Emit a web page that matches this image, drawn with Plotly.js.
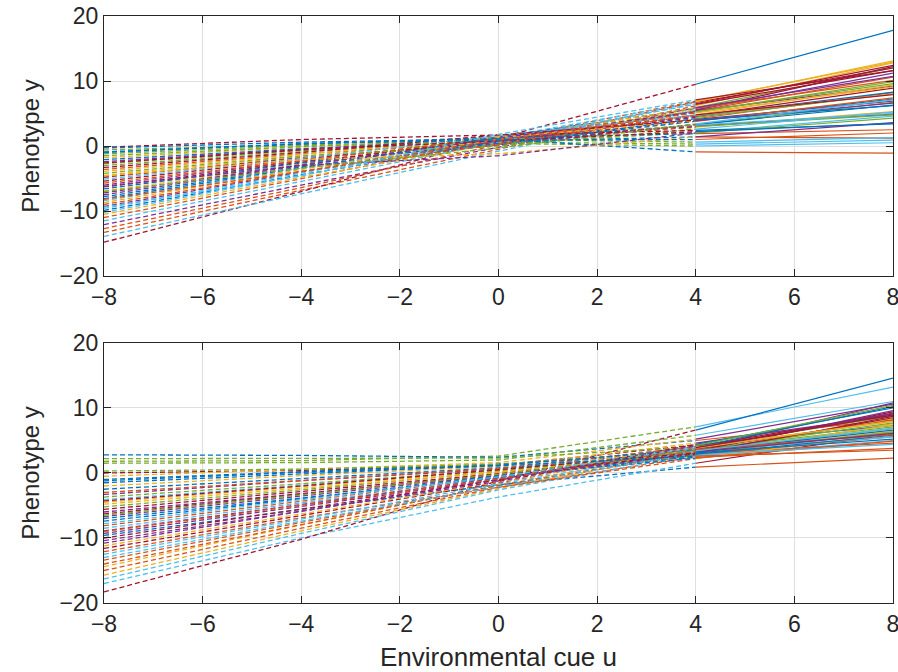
<!DOCTYPE html>
<html>
<head>
<meta charset="utf-8">
<script src="https://cdn.plot.ly/plotly-3.0.1.min.js"></script>
<style>html,body{margin:0;padding:0;background:#fff;}#chart{width:898px;height:672px;}</style>
</head>
<body>
<div id="chart"></div>
<script>
// Environmental cue positions
const uDashed = [-8, -4, 0, 4];
const uSolid = [4, 8];

// Top panel: phenotype at u = -8, -4, 0, 4, 8 for each of 50 lines
const topYm8 = [-9.9,-13.3,-4.5,-12.1,-1.2,-8.4,-14.8,-2.1,-11.0,-6.9,-9.3,-0.6,-13.9,-5.4,-7.8,-3.6,-10.5,-6.0,-2.7,-9.6,-4.8,-8.1,-12.7,-1.8,-7.2,-3.0,-11.5,-6.3,-0.9,-5.7,-8.7,-2.4,-4.2,-10.2,-0.2,-6.6,-9.0,-3.9,-7.5,-1.5,-5.1,-3.3,-0.3,-8.2,-4.6,-6.2,-7.0,-9.4,-2.6,-1.0];
const topYm4 = [-4.4,-6.8,-1.6,-6.0,0.1,-3.5,-7.0,-0.4,-5.0,-2.8,-4.0,0.2,-7.3,-2.0,-3.2,-1.2,-4.8,-2.3,-0.7,-4.1,-1.8,-3.3,-6.4,-0.2,-2.9,-0.9,-5.4,-2.5,0.3,-2.2,-3.6,-0.5,-1.5,-4.5,1.0,-2.6,-3.9,-1.3,-3.0,-0.1,-1.9,-1.0,0.6,-3.9,-2.1,-3.0,-3.4,-4.6,-0.6,0.4];
const topY0 = [0.5,-0.5,1.1,-0.2,0.4,0.6,1.2,0.7,0.9,1.5,0.8,0.6,-0.8,0.8,0.2,0.6,0.4,0.1,0.3,1.3,0.5,1.4,0.2,1.5,0.7,0.9,0.6,1.0,1.3,1.3,1.1,1.2,0.0,1.0,1.7,0.4,0.3,1.4,1.2,1.0,1.6,1.7,1.1,0.9,-1.2,-1.5,-0.3,1.8,0.8,0.9];
const topY4 = [5.4,6.2,4.1,5.9,0.0,4.6,9.5,1.4,6.9,5.4,5.2,0.3,5.5,3.9,4.2,2.9,5.6,3.3,2.1,6.7,3.3,5.8,6.8,3.1,4.4,3.2,6.5,4.6,1.9,4.7,5.9,3.0,2.6,6.4,2.4,3.8,4.8,3.9,5.3,0.6,4.8,4.0,-0.9,5.1,1.4,2.0,3.4,7.1,2.2,1.0];
const topY8 = [10.6,12.8,6.9,12.0,0.5,8.9,17.8,1.2,12.9,9.2,9.9,0.9,12.2,7.2,8.2,5.3,11.2,6.7,4.6,12.0,6.3,10.1,13.1,4.9,8.0,5.0,12.4,8.3,2.5,8.0,10.7,4.8,5.2,11.6,3.4,7.4,9.4,6.6,9.6,1.3,7.9,6.2,-1.1,9.1,3.6,4.3,7.1,11.6,3.5,2.0];

// Bottom panel: phenotype at u = -8, -4, 0, 4, 8 for each of 50 lines
const botYm8 = [-9.6,-12.1,-14.4,-10.8,1.8,-17.0,-18.3,2.8,-8.1,-15.7,-3.3,1.5,-16.3,0.0,-7.0,-13.4,-2.0,-6.0,-5.2,-4.1,-11.6,-1.0,-15.0,-0.5,-6.7,2.2,-8.5,-10.0,-2.5,-14.0,-4.5,-9.3,0.3,-12.5,-5.6,-7.4,-3.0,-11.2,-8.9,-3.7,-13.0,-6.3,-1.5,-9.0,-4.8,-10.4,-6.5,-7.8,-4.3,-1.2];
const botYm4 = [-5.6,-6.9,-8.0,-5.9,1.9,-10.0,-10.2,2.7,-4.3,-8.9,-1.2,1.6,-9.3,0.4,-3.8,-7.6,-0.4,-3.2,-2.6,-1.9,-6.6,0.2,-8.5,0.5,-3.5,2.2,-4.6,-5.5,-0.8,-7.9,-2.1,-5.1,0.6,-7.1,-2.8,-3.9,-1.1,-6.3,-4.8,-1.6,-7.4,-3.3,-0.1,-4.9,-2.3,-5.8,-3.4,-4.1,-2.0,0.1];
const botY0 = [-1.8,-2.2,-1.9,-0.9,2.6,-3.7,-1.2,2.4,-0.6,-2.4,0.6,2.0,-2.6,1.2,-0.7,-2.0,1.0,-0.3,0.2,0.5,-1.5,1.4,-2.2,1.6,-0.4,2.3,-0.9,-1.1,0.8,-1.9,0.3,-1.0,1.3,-1.7,-0.1,-0.5,0.7,-1.4,-0.8,0.4,-2.1,-0.2,1.2,-0.9,0.1,-1.3,-0.2,-0.6,0.5,1.1];
const botY4 = [0.9,2.5,3.6,3.9,7.1,1.5,6.6,5.0,3.0,3.3,3.4,5.8,2.8,4.3,2.7,3.2,4.6,3.6,2.6,4.1,4.0,3.0,2.2,5.2,3.1,4.0,3.7,4.4,2.4,2.9,3.8,3.5,3.5,3.4,3.3,2.3,4.0,3.7,3.0,2.8,3.1,2.9,3.6,3.8,3.2,4.2,3.4,3.9,3.1,2.6];
const botY8 = [2.3,7.6,10.8,8.8,13.2,6.1,14.6,8.2,6.4,9.6,6.8,11.0,8.7,7.3,5.6,8.4,8.9,7.1,5.0,9.1,10.2,4.6,6.0,10.6,6.2,5.8,8.1,10.0,3.8,7.4,8.0,7.7,5.5,9.4,6.6,4.9,7.9,9.2,6.3,4.4,8.5,5.8,5.9,8.0,6.1,10.4,6.9,8.9,5.2,3.5];

const colorOrder = ['#0072BD','#D95319','#EDB120','#7E2F8E','#77AC30','#4DBEEE','#A2142F'];

function panelTraces(ym8, ym4, y0, y4, y8, xa, ya) {
  const n = ym8.length;
  const traces = [];
  for (let i = 0; i < n; i++) {
    traces.push({
      x: uDashed, y: [ym8[i], ym4[i], y0[i], y4[i]],
      xaxis: xa, yaxis: ya, mode: 'lines', type: 'scatter', hoverinfo: 'skip',
      line: {color: colorOrder[i % 7], width: 1.3, dash: '5px,3px'}, showlegend: false
    });
  }
  for (let i = 0; i < n; i++) {
    traces.push({
      x: uSolid, y: [y4[i], y8[i]],
      xaxis: xa, yaxis: ya, mode: 'lines', type: 'scatter', hoverinfo: 'skip',
      line: {color: colorOrder[(n + i) % 7], width: 1.2}, showlegend: false
    });
  }
  return traces;
}

const data = panelTraces(topYm8, topYm4, topY0, topY4, topY8, 'x', 'y')
  .concat(panelTraces(botYm8, botYm4, botY0, botY4, botY8, 'x2', 'y2'));

const fontFam = 'Liberation Sans, Arial, Helvetica, sans-serif';
const axisCommon = {
  showline: true, linecolor: '#262626', linewidth: 1, mirror: 'ticks',
  ticks: 'inside', ticklen: 7, tickcolor: '#262626', tickwidth: 1,
  showgrid: true, gridcolor: '#dfdfdf', gridwidth: 1, zeroline: false,
  ticklabeloverflow: 'allow',
  tickfont: {family: fontFam, size: 23, color: '#262626'}
};

const layout = {
  width: 898, height: 672,
  margin: {l: 104, r: 5, t: 16, b: 69},
  paper_bgcolor: '#ffffff', plot_bgcolor: '#ffffff',
  showlegend: false,
  xaxis: Object.assign({}, axisCommon, {domain: [0, 1], range: [-8, 8], dtick: 2, tick0: 0, anchor: 'y'}),
  yaxis: Object.assign({}, axisCommon, {domain: [0.557, 1], range: [-20, 20], dtick: 10, tick0: 0, anchor: 'x',
    title: {text: 'Phenotype y', font: {family: fontFam, size: 24, color: '#262626'}, standoff: 12}}),
  xaxis2: Object.assign({}, axisCommon, {domain: [0, 1], range: [-8, 8], dtick: 2, tick0: 0, anchor: 'y2',
    title: {text: 'Environmental cue u', font: {family: fontFam, size: 26, color: '#262626'}, standoff: 12}}),
  yaxis2: Object.assign({}, axisCommon, {domain: [0, 0.443], range: [-20, 20], dtick: 10, tick0: 0, anchor: 'x2',
    title: {text: 'Phenotype y', font: {family: fontFam, size: 24, color: '#262626'}, standoff: 12}})
};

Plotly.newPlot('chart', data, layout, {staticPlot: true, displayModeBar: false});
</script>
</body>
</html>
